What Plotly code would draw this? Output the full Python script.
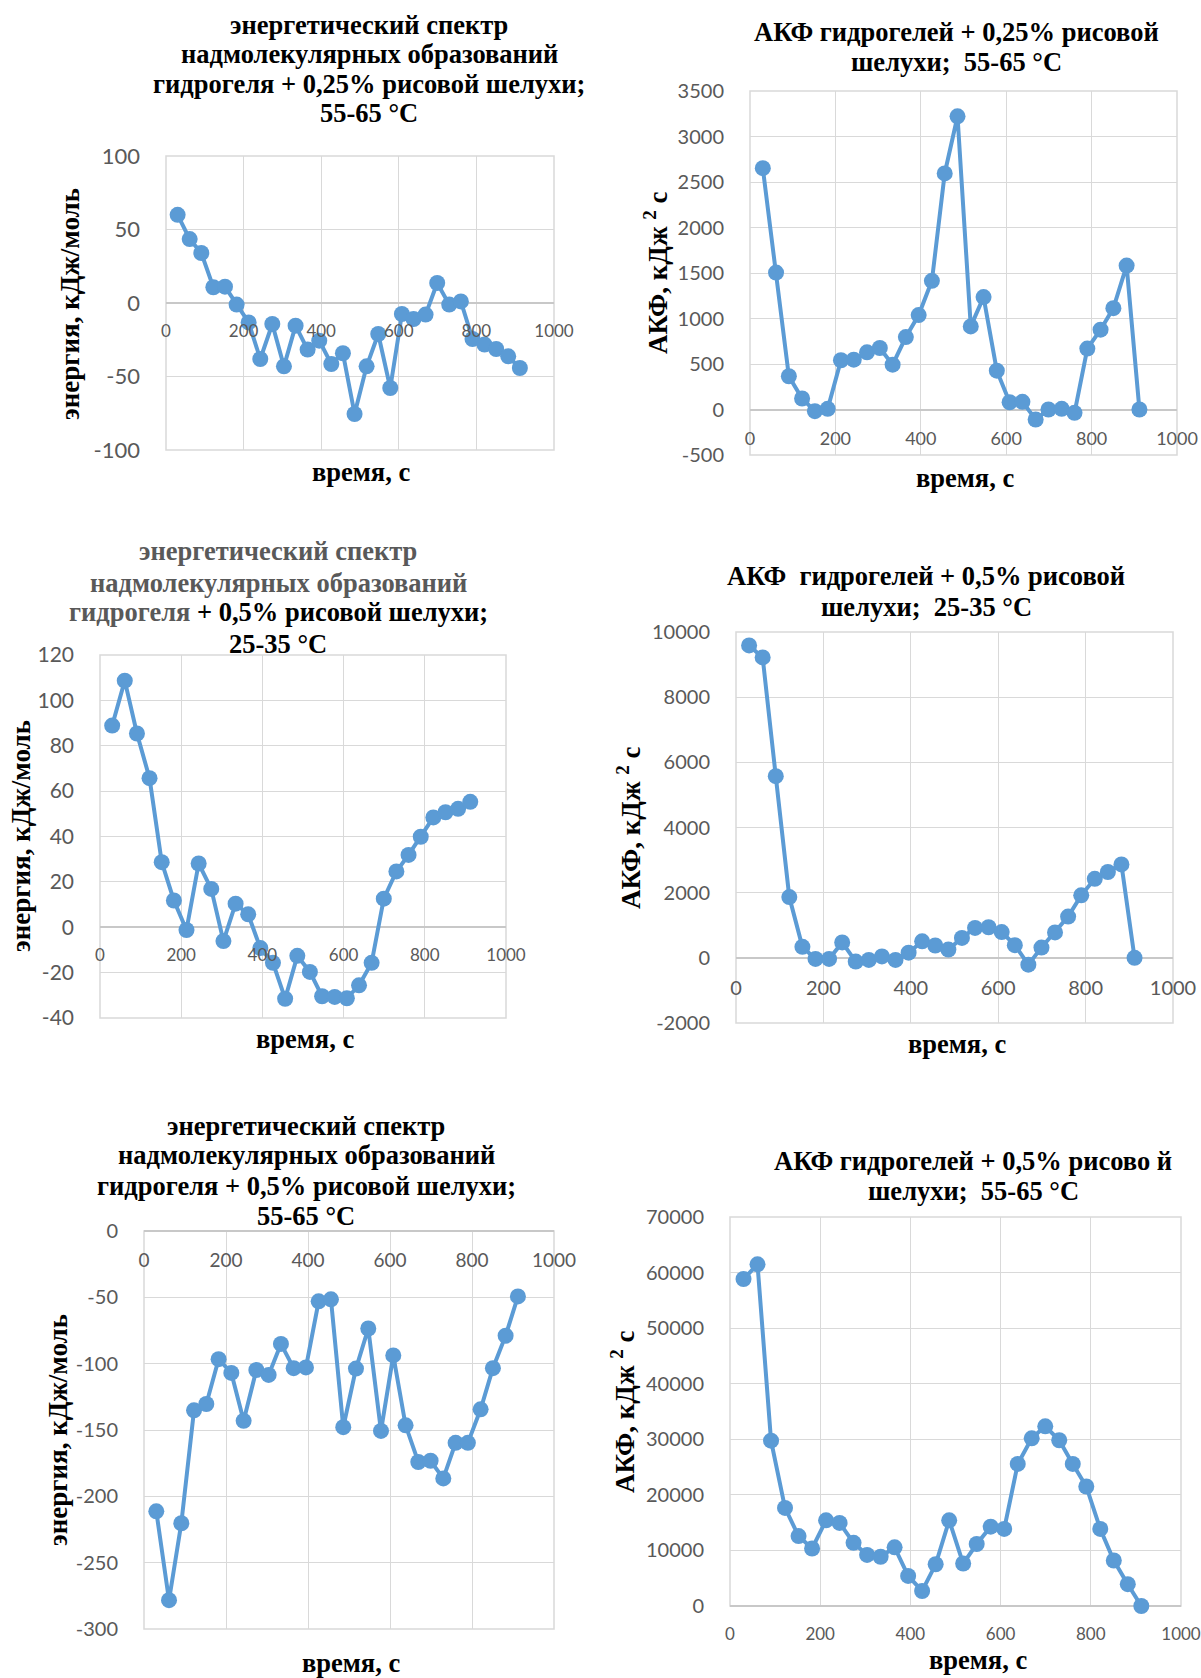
import plotly.graph_objects as go

FW, FH = 1201, 1678

# ---- data ----
time_s = [30, 61, 91, 122, 152, 182, 213, 243, 274, 304, 334, 365, 395, 426, 456,
          486, 517, 547, 578, 608, 638, 669, 699, 730, 760, 790, 821, 851, 882, 912]

energy_025_55 = [60, 43.5, 34, 10.7, 11.1, -1.1, -13.2, -38.1, -14.3, -43.1, -15.4, -31.7,
                 -25.6, -41.5, -34.2, -75.5, -43.1, -21.1, -57.8, -7.5, -10.9, -7.9, 13.6,
                 -1.1, 1.1, -24.5, -28.3, -31.3, -36.3, -44.2]

akf_025_55 = [2652, 1505, 365, 121, -18, 7, 541, 548, 628, 676, 493, 796, 1038, 1414, 2594,
              3222, 913, 1235, 427, 80, 84, -110, 0, 7, -37, 669, 877, 1114, 1582, 0]

energy_05_25 = [88.9, 108.7, 85.4, 65.7, 28.7, 11.8, -1.2, 28.1, 16.9, -6.1, 10.4, 5.7, -9.2,
                -15.7, -31.5, -12.6, -19.7, -30.4, -30.7, -31.3, -25.6, -15.7, 12.6, 24.6,
                31.9, 39.9, 48.4, 50.7, 52.2, 55.3]

akf_05_25 = [9589, 9220, 5574, 1865, 337, -32, -32, 474, -116, -63, 42, -63, 158, 506, 379,
             253, 611, 917, 938, 790, 390, -211, 316, 780, 1265, 1918, 2424, 2634, 2866, 0]

energy_05_55 = [-211.3, -278.3, -220.3, -135.2, -130.4, -96.6, -107.0, -143.1, -104.8, -108.5,
                -85.1, -103.4, -102.8, -53.0, -51.5, -147.9, -103.7, -73.5, -150.7, -93.8,
                -146.5, -174.1, -173.2, -186.5, -159.7, -159.7, -134.4, -103.4, -78.9, -49.3]

akf_05_55 = [58840, 61477, 29758, 17652, 12580, 10348, 15420, 14947, 11362, 9198, 8860, 10551,
             5411, 2705, 7507, 15420, 7642, 11159, 14270, 13865, 25565, 30164, 32328, 29826,
             25565, 21507, 13865, 8183, 3923, 0]

# tick labels
x_ticks = [0, 200, 400, 600, 800, 1000]
y_ticks_1 = [-100, -50, 0, 50, 100]
y_ticks_2 = [-500, 0, 500, 1000, 1500, 2000, 2500, 3000, 3500]
y_ticks_3 = [-40, -20, 0, 20, 40, 60, 80, 100, 120]
y_ticks_4 = [-2000, 0, 2000, 4000, 6000, 8000, 10000]
y_ticks_5 = [-300, -250, -200, -150, -100, -50, 0]
y_ticks_6 = [0, 10000, 20000, 30000, 40000, 50000, 60000, 70000]

GRAY = "#595959"
E_TITLE = "энергия, кДж/моль"
A_TITLE = "АКФ, кДж <sup>2</sup> с"
X_TITLE = "время, с"


def fx(px):
    return px / FW


def fy(py):
    return 1 - py / FH


panels = [
    dict(y=energy_025_55, yt=y_ticks_1, box=(166, 554, 156, 450),
         title=["энергетический спектр", "надмолекулярных образований",
                "гидрогеля + 0,25% рисовой шелухи;", "55-65 °C"],
         tpos=(369, [25, 53.5, 83.5, 113]), ytitle=E_TITLE, ytpos=(70, 304),
         xtpos=(361, 472), yfs=22, xfs=17),
    dict(y=akf_025_55, yt=y_ticks_2, box=(750, 1177, 91, 455),
         title=["АКФ гидрогелей + 0,25% рисовой", "шелухи;&nbsp;&nbsp;55-65 °C"],
         tpos=(956, [32, 62]), ytitle=A_TITLE, ytpos=(656, 273),
         xtpos=(965, 478), yfs=20, xfs=18),
    dict(y=energy_05_25, yt=y_ticks_3, box=(100, 506, 655, 1018),
         title=[f"<span style='color:{GRAY}'>энергетический спектр</span>",
                f"<span style='color:{GRAY}'>надмолекулярных образований</span>",
                f"<span style='color:{GRAY}'>гидрогеля</span> + 0,5% рисовой шелухи;",
                "25-35 °C"],
         tpos=(278, [551, 582.5, 612, 643.5]), ytitle=E_TITLE, ytpos=(21, 836),
         xtpos=(305, 1039), yfs=21, xfs=17),
    dict(y=akf_05_25, yt=y_ticks_4, box=(736, 1173, 632, 1023),
         title=["АКФ&nbsp;&nbsp;гидрогелей + 0,5% рисовой", "шелухи;&nbsp;&nbsp;25-35 °C"],
         tpos=(926, [576, 607]), ytitle=A_TITLE, ytpos=(629, 828),
         xtpos=(957, 1044), yfs=20, xfs=20),
    dict(y=energy_05_55, yt=y_ticks_5, box=(144, 554, 1231, 1629),
         title=["энергетический спектр", "надмолекулярных образований",
                "гидрогеля + 0,5% рисовой шелухи;", "55-65 °C"],
         tpos=(306, [1126, 1155, 1186, 1216]), ytitle=E_TITLE, ytpos=(58, 1430),
         xtpos=(351, 1663), yfs=20, xfs=19),
    dict(y=akf_05_55, yt=y_ticks_6, box=(730, 1181, 1217, 1606),
         title=["АКФ гидрогелей + 0,5% рисово й", "шелухи;&nbsp;&nbsp;55-65 °C"],
         tpos=(973, [1161, 1191]), ytitle=A_TITLE, ytpos=(623, 1412),
         xtpos=(978, 1660), yfs=20, xfs=17),
]

fig = go.Figure()
annotations = []
shapes = []
layout = {}

for i, p in enumerate(panels, start=1):
    l, r, t, b = p["box"]
    ymin, ymax = min(p["yt"]), max(p["yt"])
    xa = "x" if i == 1 else f"x{i}"
    ya = "y" if i == 1 else f"y{i}"
    fig.add_trace(go.Scatter(
        x=time_s, y=p["y"], mode="lines+markers", xaxis=xa, yaxis=ya,
        line=dict(color="#5B9BD5", width=4),
        marker=dict(size=16, color="#5B9BD5"),
        cliponaxis=False, showlegend=False, hoverinfo="x+y"))
    zero_px = t + (ymax - 0) / (ymax - ymin) * (b - t)
    layout["xaxis" if i == 1 else f"xaxis{i}"] = dict(
        domain=[fx(l), fx(r)], range=[0, 1000],
        tickmode="array", tickvals=x_ticks, ticktext=[str(v) for v in x_ticks],
        anchor="free", position=fy(zero_px), automargin=False,
        showgrid=True, gridcolor="#d9d9d9", gridwidth=1.3,
        zeroline=False, showline=False, ticks="", ticklabeloverflow="allow",
        tickfont=dict(family="Lato", size=p["xfs"], color=GRAY),
        ticklabelstandoff=16)
    layout["yaxis" if i == 1 else f"yaxis{i}"] = dict(
        domain=[fy(b), fy(t)], range=[ymin, ymax],
        tickmode="array", tickvals=p["yt"], ticktext=[str(v) for v in p["yt"]],
        anchor=xa, automargin=False, showgrid=True, gridcolor="#d9d9d9", gridwidth=1.3,
        zeroline=True, zerolinecolor="#c8c8c8", zerolinewidth=1.5,
        showline=False, ticks="",
        tickfont=dict(family="Lato", size=p["yfs"], color=GRAY),
        ticklabelstandoff=25)
    # plot-area frame
    shapes.append(dict(type="rect", xref=f"{xa} domain", yref=f"{ya} domain",
                       x0=0, x1=1, y0=0, y1=1, layer="below",
                       line=dict(color="#d9d9d9", width=1.5)))
    cx, ys = p["tpos"]
    for line, yy in zip(p["title"], ys):
        annotations.append(dict(
            text=f"<b>{line}</b>", x=fx(cx), y=fy(yy), xref="paper", yref="paper",
            xanchor="center", yanchor="middle", showarrow=False,
            font=dict(family="Liberation Serif", size=26.5, color="black")))
    yx, yy = p["ytpos"]
    annotations.append(dict(
        text=f"<b>{p['ytitle']}</b>", x=fx(yx), y=fy(yy), xref="paper", yref="paper",
        xanchor="center", yanchor="middle", showarrow=False, textangle=-90,
        font=dict(family="Liberation Serif", size=27, color="black")))
    xx, xy = p["xtpos"]
    annotations.append(dict(
        text=f"<b>{X_TITLE}</b>", x=fx(xx), y=fy(xy), xref="paper", yref="paper",
        xanchor="center", yanchor="middle", showarrow=False,
        font=dict(family="Liberation Serif", size=26.5, color="black")))

fig.update_layout(
    template="none",
    width=FW, height=FH, margin=dict(l=0, r=0, t=0, b=0, pad=0),
    paper_bgcolor="white", plot_bgcolor="white",
    annotations=annotations, shapes=shapes, **layout)

fig.write_html(
    "out.html",
    config={"displayModeBar": False},
    post_script="document.body.style.margin='0';document.body.style.overflow='hidden';")
